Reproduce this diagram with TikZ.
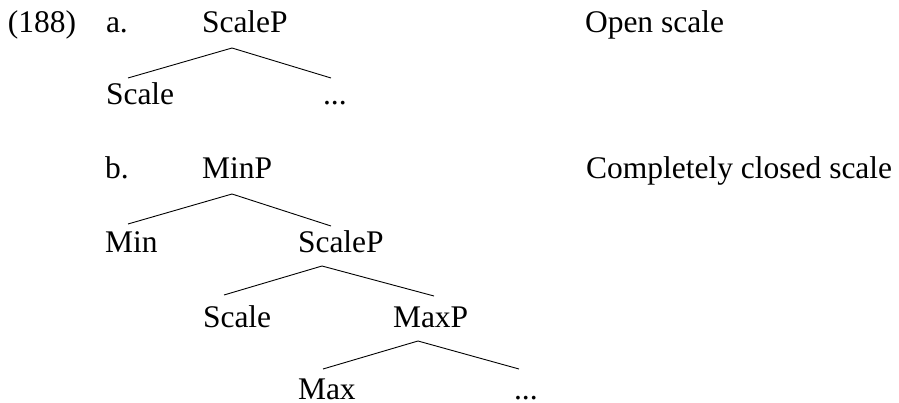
\documentclass[tikz,border=0pt]{standalone}
\usepackage{fontspec}
\setmainfont{Liberation Serif}
\begin{document}
\begin{tikzpicture}[x=1pt,y=-1pt,
  lbl/.style={anchor=base west,inner sep=0pt,outer sep=0pt,font=\fontsize{31.5}{38}\selectfont},
  branch/.style={line width=0.9pt,black}]
\useasboundingbox (0,0) rectangle (899,403);
% tree a
\node[lbl] (num) at (8,33) {(188)};
\node[lbl] (la) at (106,33) {a.};
\node[lbl] (aScaleP) at (202,33) {ScaleP};
\node[lbl] (open) at (585,33) {Open scale};
\node[lbl] (aScale) at (106,105) {Scale};
\node[lbl] (aDots) at (323,105) {...};
\coordinate (aTop) at (232,48);
\coordinate (aL) at (128,78);
\coordinate (aR) at (331,78);
\draw[branch] (aL) -- (aTop) -- (aR);
% tree b
\node[lbl] (lb) at (105,179) {b.};
\node[lbl] (bMinP) at (202,179) {MinP};
\node[lbl] (closed) at (586,179) {Completely closed scale};
\node[lbl] (bMin) at (105,253) {Min};
\node[lbl] (bScaleP) at (298,253) {ScaleP};
\node[lbl] (bScale) at (203,327) {Scale};
\node[lbl] (bMaxP) at (393,327) {MaxP};
\node[lbl] (bMax) at (298,399) {Max};
\node[lbl] (bDots) at (514,399) {...};
\coordinate (b1Top) at (232,194);
\coordinate (b1L) at (128,224);
\coordinate (b1R) at (331,226);
\draw[branch] (b1L) -- (b1Top) -- (b1R);
\coordinate (b2Top) at (322,266);
\coordinate (b2L) at (224,295);
\coordinate (b2R) at (434,296);
\draw[branch] (b2L) -- (b2Top) -- (b2R);
\coordinate (b3Top) at (418,341);
\coordinate (b3L) at (323,369);
\coordinate (b3R) at (519,369);
\draw[branch] (b3L) -- (b3Top) -- (b3R);
\end{tikzpicture}
\end{document}
